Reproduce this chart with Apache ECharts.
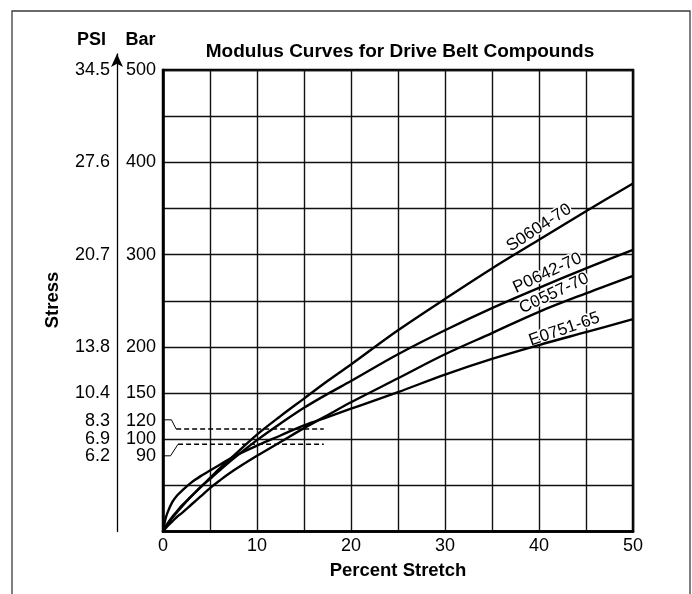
<!DOCTYPE html>
<html>
<head>
<meta charset="utf-8">
<script src="https://cdn.jsdelivr.net/npm/echarts@6/dist/echarts.min.js"></script>
<style>
  html, body { margin: 0; padding: 0; background: #fff; }
  #chart { width: 692px; height: 594px; }
</style>
</head>
<body>
<div id="chart"></div>
<script>
// percent stretch (x) and stress in bar (y)
const stretch = [0, 0.25, 0.5, 1, 1.5, 2, 3, 4, 5, 6, 7.5, 10, 12.5, 15, 17.5, 20, 25, 30, 35, 40, 45, 50];
const s0604 = [0, 4, 8, 15, 21, 27, 38, 48, 58, 68, 82, 105, 125, 144, 163, 181, 218, 252, 285, 316, 347, 377];
const p0642 = [0, 5, 9, 16, 22, 28, 38, 48, 57, 66, 79, 99, 117, 134, 149, 163, 192, 218, 242, 264, 285, 305];
const c0557 = [0, 3, 6, 11, 16, 20, 29, 38, 47, 55, 66, 82, 97, 112, 126, 140, 166, 192, 215, 238, 258, 277];
const e0751 = [0, 13, 21, 32, 39, 44, 53, 60, 66, 72, 81, 93, 104, 115, 124, 133, 151, 170, 187, 202, 216, 230];

const barTicks = [500, 400, 300, 200, 150, 120, 100, 90];
const psiTicks = ['34.5', '27.6', '20.7', '13.8', '10.4', '8.3', '6.9', '6.2'];
const lowTick = 90; // drawn a little below its value, with a leader

// dashed reference band and the leaders from the 120 / 90 labels
const upperRef = [[1.4, 111], [17.1, 111]];
const lowerRef = [[1.6, 94.5], [17.1, 94.5]];
const upperLeader = [[-0.25, 121], [0.9, 121], [1.4, 111]];
const lowerLeader = [[-0.25, 82], [0.8, 82], [1.6, 94.5]];

const FONT = "'Liberation Sans', Arial, sans-serif";
const plotTop = 70, plotBottom = 62.5, psiTop = 54, H = 594;
const psiMax = 500 * (H - plotBottom - psiTop) / (H - plotBottom - plotTop);

const chart = echarts.init(document.getElementById('chart'));

function pairs(ys) {
  return stretch.map((x, i) => [x, ys[i]]);
}

function curve(name, ys, at, angle) {
  return {
    name: name,
    type: 'line',
    smooth: 0.35,
    symbol: 'none',
    data: pairs(ys),
    lineStyle: { color: '#000', width: 2.4 },
    z: 5,
    markPoint: {
      symbol: 'circle',
      symbolSize: 0,
      silent: true,
      label: {
        show: true,
        position: 'inside',
        rotate: angle,
        formatter: name,
        color: '#000',
        fontFamily: FONT,
        fontSize: 17,
        textBorderColor: '#fff',
        textBorderWidth: 3
      },
      data: [{ coord: at }]
    }
  };
}

function helper(data, dashed, width) {
  return {
    type: 'line',
    symbol: 'none',
    clip: false,
    data: data,
    lineStyle: { color: '#000', width: width, type: dashed ? [5, 3] : 'solid' },
    z: 4
  };
}

const axisText = { color: '#000', fontFamily: FONT, fontSize: 18 };

const options = {
  animation: false,
  backgroundColor: '#fff',
  title: {
    text: 'Modulus Curves for Drive Belt Compounds',
    left: 400,
    top: 42,
    padding: 0,
    textAlign: 'center',
    textStyle: { fontFamily: FONT, fontSize: 19, fontWeight: 'bold', color: '#000' }
  },
  grid: [
    {
      left: 163, right: 59, top: plotTop, bottom: plotBottom,
      show: true, borderColor: '#000', borderWidth: 2.5,
      outerBoundsMode: 'none'
    },
    { left: 117, width: 10, top: psiTop, bottom: plotBottom, outerBoundsMode: 'none' }
  ],
  xAxis: [
    {
      type: 'value', gridIndex: 0, min: 0, max: 50, interval: 5,
      axisLine: { show: true, lineStyle: { color: '#000', width: 2.5 } },
      axisTick: { show: false },
      axisLabel: Object.assign({
        formatter: (v) => (v % 10 === 0 ? String(v) : ''),
        margin: 6
      }, axisText),
      splitLine: { show: true, lineStyle: { color: '#111', width: 1.4 } },
      name: 'Percent Stretch',
      nameLocation: 'middle',
      nameGap: 30,
      nameTextStyle: { color: '#000', fontFamily: FONT, fontSize: 18.5, fontWeight: 'bold' }
    },
    { type: 'value', gridIndex: 1, min: 0, max: 1, show: false }
  ],
  yAxis: [
    {
      type: 'value', gridIndex: 0, min: 0, max: 500, interval: 50,
      axisLine: { show: true, lineStyle: { color: '#000', width: 2.5 } },
      axisTick: { show: false },
      axisLabel: Object.assign({
        customValues: barTicks.filter((v) => v !== lowTick),
        formatter: (v) => String(v),
        margin: 7
      }, axisText),
      splitLine: { show: true, lineStyle: { color: '#111', width: 1.4 } }
    },
    {
      type: 'value', gridIndex: 1, min: 0, max: psiMax, position: 'left',
      axisLine: {
        show: true,
        symbol: ['none', 'arrow'],
        symbolSize: [9, 13],
        lineStyle: { color: '#000', width: 1.3 }
      },
      axisTick: { show: false },
      splitLine: { show: false },
      axisLabel: Object.assign({
        customValues: barTicks.filter((v) => v !== lowTick),
        formatter: (v) => psiTicks[barTicks.indexOf(v)],
        margin: 7
      }, axisText)
    }
  ],
  graphic: [
    {
      type: 'rect', silent: true, z: -1,
      shape: { x: 12, y: 11, width: 678, height: 640 },
      style: { fill: 'none', stroke: '#3a3a3a', lineWidth: 1.3 }
    },
    {
      type: 'text', x: 91.5, y: 40,
      style: { text: 'PSI', fill: '#000', font: 'bold 18px ' + FONT, align: 'center', verticalAlign: 'middle' }
    },
    {
      type: 'text', x: 140.5, y: 40,
      style: { text: 'Bar', fill: '#000', font: 'bold 18px ' + FONT, align: 'center', verticalAlign: 'middle' }
    },
    {
      type: 'text', x: 52.5, y: 300, rotation: Math.PI / 2,
      style: { text: 'Stress', fill: '#000', font: 'bold 18.5px ' + FONT, align: 'center', verticalAlign: 'middle' }
    }
  ],
  series: [
    helper(upperRef, true, 1.4),
    helper(lowerRef, true, 1.4),
    helper(upperLeader, false, 1),
    helper(lowerLeader, false, 1),
    curve('S0604-70', s0604, [40, 329], 33),
    curve('P0642-70', p0642, [40.9, 280], 25),
    curve('C0557-70', c0557, [41.6, 258], 25),
    curve('E0751-65', e0751, [42.7, 219], 19)
  ]
};

chart.setOption(options);

// the 90 bar / 6.2 psi labels sit just under their value so they clear the 100 row
const lowY = chart.convertToPixel({ yAxisIndex: 0 }, lowTick) + 8;
const lowFont = '18px ' + FONT;
chart.setOption({
  graphic: options.graphic.concat([
    {
      type: 'text', x: 156, y: lowY,
      style: { text: String(lowTick), fill: '#000', font: lowFont, align: 'right', verticalAlign: 'middle' }
    },
    {
      type: 'text', x: 110, y: lowY,
      style: { text: psiTicks[barTicks.indexOf(lowTick)], fill: '#000', font: lowFont, align: 'right', verticalAlign: 'middle' }
    }
  ])
});
</script>
</body>
</html>
